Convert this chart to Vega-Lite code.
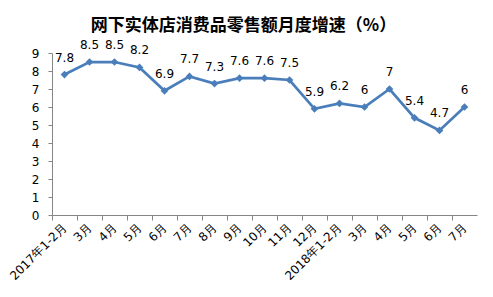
{
  "$schema": "https://vega.github.io/schema/vega-lite/v6.json",
  "autosize": "none",
  "width": 425,
  "height": 162,
  "padding": {"left": 52, "top": 53, "right": 16, "bottom": 82},
  "background": "white",
  "title": {
    "text": "网下实体店消费品零售额月度增速（%）",
    "font": "Noto Sans CJK SC",
    "fontSize": 17,
    "fontWeight": "bold",
    "color": "#000000",
    "anchor": "middle",
    "frame": "group",
    "dx": -21,
    "offset": 4
  },
  "data": {
    "values": [
      {"month": "2017年1-2月", "value": 7.8},
      {"month": "2017年3月", "value": 8.5},
      {"month": "2017年4月", "value": 8.5},
      {"month": "2017年5月", "value": 8.2},
      {"month": "2017年6月", "value": 6.9},
      {"month": "2017年7月", "value": 7.7},
      {"month": "2017年8月", "value": 7.3},
      {"month": "2017年9月", "value": 7.6},
      {"month": "2017年10月", "value": 7.6},
      {"month": "2017年11月", "value": 7.5},
      {"month": "2017年12月", "value": 5.9},
      {"month": "2018年1-2月", "value": 6.2},
      {"month": "2018年3月", "value": 6},
      {"month": "2018年4月", "value": 7},
      {"month": "2018年5月", "value": 5.4},
      {"month": "2018年6月", "value": 4.7},
      {"month": "2018年7月", "value": 6}
    ]
  },
  "encoding": {
    "x": {
      "field": "month",
      "type": "nominal",
      "sort": null,
      "scale": {"type": "band", "paddingInner": 0, "paddingOuter": 0},
      "axis": {
        "title": null,
        "bandPosition": 0,
        "labelAngle": -45,
        "labelAlign": "right",
        "labelBaseline": "middle",
        "labelExpr": "indexof(datum.value, '1-2') >= 0 ? datum.value : substring(datum.value, 5)",
        "labelFont": "DejaVu Sans",
        "labelFontSize": 12,
        "labelColor": "#000000",
        "labelPadding": 5,
        "tickSize": 5,
        "tickColor": "#868686",
        "domainColor": "#868686",
        "labelOverlap": false,
        "grid": false
      }
    },
    "y": {
      "field": "value",
      "type": "quantitative",
      "scale": {"domain": [0, 9], "nice": false, "zero": true},
      "axis": {
        "title": null,
        "values": [0, 1, 2, 3, 4, 5, 6, 7, 8, 9],
        "labelFont": "DejaVu Sans",
        "labelFontSize": 12,
        "labelColor": "#000000",
        "labelPadding": 9,
        "tickSize": 4,
        "tickColor": "#868686",
        "domainColor": "#868686",
        "grid": false
      }
    }
  },
  "layer": [
    {
      "mark": {"type": "line", "color": "#4A7EBB", "strokeWidth": 2.75}
    },
    {
      "mark": {"type": "point", "shape": "diamond", "filled": true, "color": "#4A7EBB", "size": 60, "opacity": 1}
    },
    {
      "mark": {"type": "text", "baseline": "alphabetic", "dy": -13, "font": "DejaVu Sans", "fontSize": 12, "color": "#000000"},
      "encoding": {"text": {"field": "value", "type": "quantitative"}}
    }
  ],
  "config": {"view": {"stroke": null}}
}
